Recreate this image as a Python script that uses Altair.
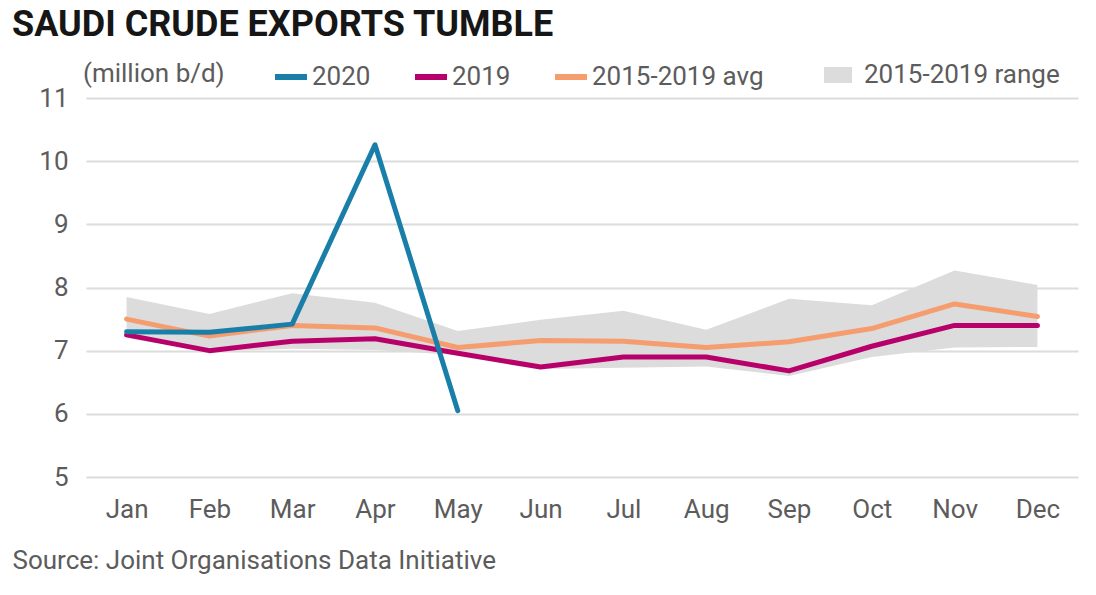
import altair as alt
import pandas as pd

months = ["Jan", "Feb", "Mar", "Apr", "May", "Jun", "Jul", "Aug", "Sep", "Oct", "Nov", "Dec"]
y2020 = [7.30, 7.29, 7.42, 10.26, 6.05]
y2019 = [7.25, 7.00, 7.15, 7.19, 6.96, 6.74, 6.90, 6.90, 6.68, 7.07, 7.40, 7.40]
avg_15_19 = [7.50, 7.23, 7.40, 7.36, 7.05, 7.16, 7.15, 7.05, 7.14, 7.35, 7.74, 7.54]
range_hi = [7.85, 7.58, 7.91, 7.76, 7.31, 7.49, 7.63, 7.33, 7.82, 7.72, 8.27, 8.04]
range_lo = [7.20, 6.99, 7.03, 7.01, 6.93, 6.71, 6.73, 6.75, 6.60, 6.90, 7.05, 7.06]
y_ticks = [5, 6, 7, 8, 9, 10, 11]

series_names = ["2020", "2019", "2015-2019 avg"]
series_colors = ["#1a7fa8", "#b8006b", "#f59d6e"]
range_name = "2015-2019 range"
range_color = "#dcdcdc"
text_color = "#5c5c5c"
FONT = "Roboto"

rows = []
for m, v in zip(months, avg_15_19):
    rows.append({"series": "2015-2019 avg", "month": m, "value": v})
for m, v in zip(months, y2019):
    rows.append({"series": "2019", "month": m, "value": v})
for m, v in zip(months, y2020):
    rows.append({"series": "2020", "month": m, "value": v})
lines_df = pd.DataFrame(rows)

range_df = pd.DataFrame({"month": months, "hi": range_hi, "lo": range_lo,
                         "label": [range_name] * len(months)})

x_enc = alt.X(
    "month:N", sort=months,
    scale=alt.Scale(type="point", padding=0.49),
    axis=alt.Axis(
        labelAngle=0, labelPadding=19, grid=False, domain=False, ticks=False,
        labelFont=FONT, labelFontSize=26, labelColor=text_color,
        title="Source: Joint Organisations Data Initiative",
        titleX=-74, titleY=91, titleAlign="left", titleBaseline="alphabetic",
        titleFont=FONT, titleFontSize=26, titleFontWeight="normal", titleColor=text_color,
    ),
)
y_scale = alt.Scale(domain=[5, 11], nice=False, zero=False)
y_axis = alt.Axis(
    values=y_ticks, title=None, domain=False, ticks=False, grid=True,
    gridColor="#dcdcdc", gridWidth=2, labelPadding=18,
    labelFont=FONT, labelFontSize=26, labelColor=text_color,
)

area = alt.Chart(range_df).mark_area(opacity=1).encode(
    x=x_enc,
    y=alt.Y("hi:Q", scale=y_scale, axis=y_axis),
    y2="lo:Q",
    fill=alt.Fill(
        "label:N",
        scale=alt.Scale(domain=[range_name], range=[range_color]),
        legend=alt.Legend(
            title=None, orient="none", legendX=738, legendY=-37,
            direction="horizontal", symbolType="M-1,-0.57H1V0.57H-1Z",
            symbolSize=784, symbolStrokeWidth=0, symbolOpacity=1,
            labelOffset=12, padding=0, labelLimit=0,
            labelFont=FONT, labelFontSize=26, labelColor=text_color,
        ),
    ),
)

lines = alt.Chart(lines_df).mark_line(
    strokeWidth=5, strokeCap="round", strokeJoin="round"
).encode(
    x=x_enc,
    y=alt.Y("value:Q", scale=y_scale, axis=y_axis),
    color=alt.Color(
        "series:N",
        scale=alt.Scale(domain=series_names, range=series_colors),
        legend=alt.Legend(
            title="(million b/d)", titleOrient="left", orient="none",
            legendX=-3, legendY=-40, direction="horizontal",
            symbolType="stroke", symbolSize=1024, symbolStrokeWidth=6,
            labelOffset=2, columnPadding=32, padding=0, titlePadding=47,
            labelLimit=0, titleAnchor="middle", titleBaseline="middle",
            labelFont=FONT, labelFontSize=26, labelColor=text_color,
            titleFont=FONT, titleFontSize=26, titleFontWeight="normal",
            titleColor=text_color,
        ),
    ),
)

chart = alt.layer(area, lines).properties(
    width=992, height=379,
    autosize=alt.AutoSizeParams(type="none"),
    padding={"left": 86, "top": 98, "right": 18, "bottom": 118},
    background="white",
    title=alt.TitleParams(
        "SAUDI CRUDE EXPORTS TUMBLE", font="Roboto",
        fontSize=36, fontWeight="bold", color="#161616",
        anchor="start", frame="group", dx=-74, offset=14,
    ),
).configure_view(stroke=None)

chart.save("out.html", embed_options={"renderer": "svg", "actions": False})
